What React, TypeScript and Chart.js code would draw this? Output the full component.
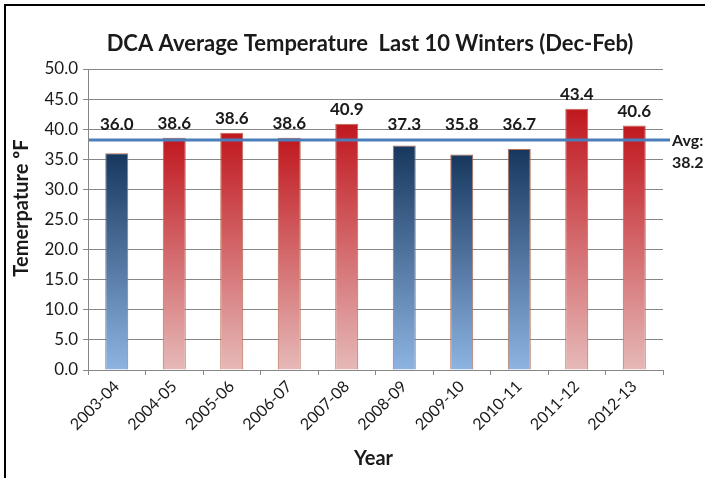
import React, { useEffect, useRef } from "react";
import { Chart, registerables } from "chart.js";

Chart.register(...registerables);

const categories = ["2003-04", "2004-05", "2005-06", "2006-07", "2007-08", "2008-09", "2009-10", "2010-11", "2011-12", "2012-13"];
const barValues = [36.0, 38.6, 39.4, 38.6, 40.9, 37.3, 35.8, 36.7, 43.4, 40.6];
const labelValues = [36.0, 38.6, 38.6, 38.6, 40.9, 37.3, 35.8, 36.7, 43.4, 40.6];
const avgValue = 38.2;
const yMin = 0;
const yMax = 50;
const yStep = 5;

const titleText = "DCA Average Temperature  Last 10 Winters (Dec-Feb)";
const yTitleText = "Temerpature ºF";
const xTitleText = "Year";

const FONT = 'Lato, "Open Sans", sans-serif';

const BLUE_TOP = "#17375E";
const BLUE_BOT = "#8DB4E2";
const RED_TOP = "#C0181F";
const RED_BOT = "#E6B9B8";

const decorPlugin = {
  id: "decor",
  beforeDraw(chart: any) {
    const ctx = chart.ctx;
    ctx.save();
    ctx.fillStyle = "#ffffff";
    ctx.fillRect(0, 0, chart.width, chart.height);
    ctx.fillStyle = "#000000";
    ctx.fillRect(4, 4, chart.width - 4, 2);
    ctx.fillRect(4, 4, 2, chart.height - 4);
    ctx.restore();
  },
  afterDatasetsDraw(chart: any) {
    const ctx = chart.ctx;
    const y = chart.scales.y;
    const area = chart.chartArea;
    ctx.save();
    // average line
    const ay = y.getPixelForValue(avgValue);
    ctx.strokeStyle = "#4A7EBB";
    ctx.lineWidth = 3;
    ctx.beginPath();
    ctx.moveTo(area.left + 1, ay);
    ctx.lineTo(area.right + 7, ay);
    ctx.stroke();
    ctx.fillStyle = "#1a1a1a";
    ctx.font = `bold 16px ${FONT}`;
    ctx.textAlign = "left";
    ctx.textBaseline = "middle";
    ctx.fillText("Avg:", area.right + 9, ay + 1);
    ctx.fillText(avgValue.toFixed(1), area.right + 9, ay + 23);
    // data labels
    ctx.textAlign = "center";
    ctx.font = `bold 17px ${FONT}`;
    const meta = chart.getDatasetMeta(0);
    meta.data.forEach((bar: any, i: number) => {
      const top = y.getPixelForValue(barValues[i]);
      const ly = Math.min(top - 14, ay - 16);
      ctx.fillText(labelValues[i].toFixed(1), bar.x, ly);
    });
    // titles
    ctx.font = `bold 22px ${FONT}`;
    ctx.fillText(titleText, 370, 44);
    ctx.font = `bold 20px ${FONT}`;
    ctx.fillText(xTitleText, (area.left + area.right) / 2 - 2, 459);
    ctx.translate(22, 208);
    ctx.rotate(-Math.PI / 2);
    ctx.fillText(yTitleText, 0, 0);
    ctx.restore();
  },
};

function barGradient(c: any) {
  const chart = c.chart;
  const v = c.raw as number;
  const below = v < avgValue;
  const top = below ? BLUE_TOP : RED_TOP;
  const bot = below ? BLUE_BOT : RED_BOT;
  if (!chart.chartArea || !chart.scales || !chart.scales.y) return top;
  const y = chart.scales.y;
  const y0 = y.getPixelForValue(v);
  const y1 = y.getPixelForValue(0);
  const g = chart.ctx.createLinearGradient(0, y0, 0, y1);
  g.addColorStop(0, top);
  g.addColorStop(1, bot);
  return g;
}

export default function App() {
  const ref = useRef<HTMLCanvasElement | null>(null);
  useEffect(() => {
    document.body.style.margin = "0";
    if (!ref.current) return;
    const chart = new Chart(ref.current, {
      type: "bar",
      data: {
        labels: categories,
        datasets: [
          {
            data: barValues,
            backgroundColor: barGradient as any,
            borderColor: "#B86A4E",
            borderWidth: 1,
            barPercentage: 0.4,
            categoryPercentage: 1,
          },
        ],
      },
      options: {
        animation: false,
        responsive: false,
        maintainAspectRatio: false,
        devicePixelRatio: 1,
        layout: { padding: { top: 69, right: 42, left: 0, bottom: 0 } },
        plugins: {
          legend: { display: false },
          title: { display: false },
          tooltip: { enabled: false },
        },
        scales: {
          x: {
            afterFit: (s: any) => {
              s.height = 108;
            },
            grid: {
              drawOnChartArea: false,
              drawTicks: true,
              tickLength: 5,
              color: "#868686",
              offset: true,
            },
            border: { display: true, color: "#868686", width: 1 },
            ticks: {
              minRotation: 45,
              maxRotation: 45,
              color: "#1a1a1a",
              font: { family: FONT, size: 16 },
              padding: 2,
            },
          },
          y: {
            min: yMin,
            max: yMax,
            afterFit: (s: any) => {
              s.width = 88;
            },
            grid: {
              color: "#868686",
              tickLength: 5,
              lineWidth: 1,
            },
            border: { display: true, color: "#868686", width: 1 },
            ticks: {
              stepSize: yStep,
              color: "#1a1a1a",
              font: { family: FONT, size: 17 },
              padding: 5,
              callback: (v: any) => Number(v).toFixed(1),
            },
          },
        },
      },
      plugins: [decorPlugin],
    });
    return () => chart.destroy();
  }, []);
  return (
    <div style={{ width: 705, height: 478, position: "relative" }}>
      <canvas ref={ref} width={705} height={478} style={{ display: "block", width: 705, height: 478 }} />
    </div>
  );
}
